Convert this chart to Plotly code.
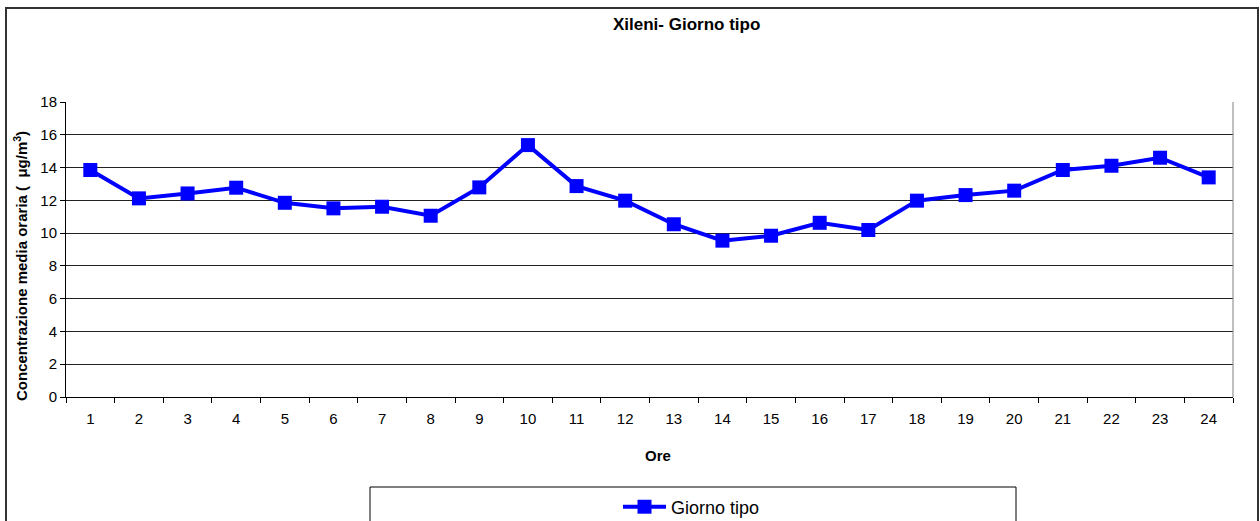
import plotly.graph_objects as go

# Average hourly xylene concentration over a typical day
hours = [str(h) for h in range(1, 25)]
giorno_tipo = [13.85, 12.12, 12.42, 12.77, 11.85, 11.51, 11.61, 11.06, 12.79, 15.37,
               12.87, 11.98, 10.54, 9.54, 9.84, 10.63, 10.19, 11.98, 12.32, 12.59,
               13.85, 14.11, 14.60, 13.40]
y_ticks = [0, 2, 4, 6, 8, 10, 12, 14, 16, 18]

W, H = 1260, 521
L, R, T, B = 66, 27, 102, 124
pw, ph = W - L - R, H - T - B


def px_x(p):
    return (p - L) / pw


def px_y(p):
    return (H - B - p) / ph


FONT = "Liberation Sans, Arial, sans-serif"
BLUE = "#0000FF"

fig = go.Figure()
fig.add_trace(go.Scatter(
    x=hours, y=giorno_tipo, mode="lines+markers", name="Giorno tipo",
    line=dict(color=BLUE, width=4),
    marker=dict(symbol="square", size=14, color=BLUE),
))

fig.update_layout(
    width=W, height=H,
    margin=dict(l=L, r=R, t=T, b=B, autoexpand=False),
    paper_bgcolor="white", plot_bgcolor="white",
    font=dict(family=FONT, size=15, color="black"),
    showlegend=True,
    legend=dict(
        orientation="h", x=px_x(618), y=px_y(507), xanchor="left", yanchor="middle",
        font=dict(family=FONT, size=18, color="black"),
        bgcolor="rgba(0,0,0,0)", itemwidth=43,
    ),
    xaxis=dict(
        type="category", categoryorder="array", categoryarray=hours,
        range=[-0.5, len(hours) - 0.5],
        tickson="boundaries", ticks="outside", ticklen=5, tickcolor="black",
        ticklabelstandoff=8,
        showline=True, linecolor="black", linewidth=1,
        showgrid=False, zeroline=False,
        tickfont=dict(family=FONT, size=15),
    ),
    yaxis=dict(
        range=[0, 18], tickvals=y_ticks, ticks="outside", ticklen=5, tickcolor="black",
        showline=True, linecolor="black", linewidth=1,
        showgrid=True, gridcolor="#222222", gridwidth=1, zeroline=False,
        tickfont=dict(family=FONT, size=15),
    ),
    annotations=[
        dict(text="<b>Xileni- Giorno tipo</b>", x=px_x(686), y=px_y(25),
             xref="paper", yref="paper", xanchor="center", yanchor="middle",
             showarrow=False, font=dict(family=FONT, size=17)),
        dict(text="<b>Ore</b>", x=px_x(658), y=px_y(455),
             xref="paper", yref="paper", xanchor="center", yanchor="middle",
             showarrow=False, font=dict(family=FONT, size=15)),
        dict(text="<b>Concentrazione media oraria (  μg/m<sup>3</sup>)</b>",
             x=px_x(20), y=px_y(266), xref="paper", yref="paper",
             xanchor="center", yanchor="middle",
             showarrow=False, textangle=-90,
             font=dict(family=FONT, size=15)),
    ],
    shapes=[
        # outer chart frame
        dict(type="rect", xref="paper", yref="paper",
             x0=px_x(6), x1=px_x(1258), y0=px_y(540), y1=px_y(8),
             line=dict(color="#333333", width=2), layer="below"),
        # right edge of the plot area
        dict(type="line", xref="paper", yref="paper",
             x0=1, x1=1, y0=0, y1=1, line=dict(color="#808080", width=1)),
        # legend box
        dict(type="rect", xref="paper", yref="paper",
             x0=px_x(370), x1=px_x(1016), y0=px_y(540), y1=px_y(487),
             line=dict(color="black", width=1)),
    ],
)

fig.write_html("out.html")
